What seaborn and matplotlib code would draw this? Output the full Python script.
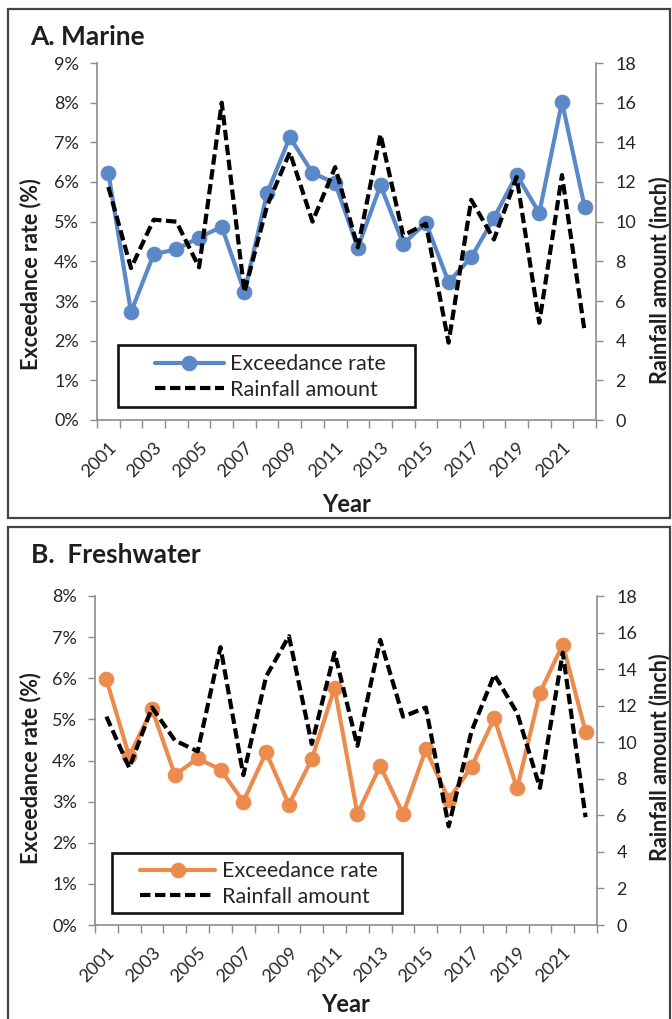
import matplotlib
matplotlib.use("Agg")
import matplotlib.pyplot as plt
import seaborn as sns
from matplotlib.patches import Rectangle
from matplotlib.ticker import PercentFormatter

years = list(range(2001, 2023))
tick_years = list(range(2001, 2022, 2))

marine_rate = [6.23, 2.72, 4.18, 4.3, 4.6, 4.87, 3.23, 5.72, 7.13, 6.23, 5.97,
               4.34, 5.92, 4.44, 4.97, 3.48, 4.1, 5.09, 6.18, 5.22, 8.02, 5.37]
marine_rain = [11.75, 7.66, 10.1, 10.0, 7.7, 16.0, 6.45, 10.8, 13.5, 10.0, 12.75,
               8.7, 14.4, 9.3, 9.9, 3.9, 11.1, 9.1, 12.25, 4.9, 12.35, 4.45]

fresh_rate = [5.97, 4.1, 5.25, 3.65, 4.05, 3.78, 3.0, 4.2, 2.93, 4.03, 5.77,
              2.7, 3.87, 2.7, 4.27, 3.05, 3.85, 5.03, 3.32, 5.65, 6.82, 4.7]
fresh_rain = [11.4, 8.6, 11.9, 10.1, 9.5, 15.2, 8.2, 13.6, 15.8, 9.9, 14.9,
              9.8, 15.6, 11.4, 11.9, 5.4, 10.6, 13.7, 11.6, 7.5, 14.9, 5.9]

blue = "#5B88C6"
orange = "#EC8B4E"
axis_grey = "#8c8c8c"
text_dark = "#262626"

sns.set_style("white")
plt.rcParams["font.family"] = ["Lato", "DejaVu Sans"]

W, H = 672, 1019
fig = plt.figure(figsize=(W / 100, H / 100), dpi=100)


def px_rect(left, top, right, bottom):
    return [left / W, 1 - bottom / H, (right - left) / W, (bottom - top) / H]


def draw_panel(pos, rate, rain, color, ymax, title, title_xy, lab, leg):
    ax = fig.add_axes(pos)
    ax2 = ax.twinx()

    sns.lineplot(x=years, y=rate, ax=ax, color=color, marker="o", markersize=10.5,
                 linewidth=3.0, markeredgecolor=color, legend=False)
    sns.lineplot(x=years, y=rain, ax=ax2, color="black", linewidth=3.0, legend=False)
    h1 = ax.lines[0]
    h2 = ax2.lines[0]
    h2.set_dashes([2.5, 1.1])
    h1.set_label("Exceedance rate")
    h2.set_label("Rainfall amount")

    ax.set_xlim(2000.5, 2022.5)
    ax.set_ylim(0, ymax)
    ax2.set_ylim(0, 18)
    ax.set_yticks(range(0, ymax + 1))
    ax.yaxis.set_major_formatter(PercentFormatter(xmax=100, decimals=0))
    ax2.set_yticks(range(0, 19, 2))

    ax.set_xticks(tick_years)
    ax.set_xticklabels([str(y) for y in tick_years], rotation=45, ha="right",
                       va="top", rotation_mode="anchor")
    ax.set_xticks([y - 0.5 for y in years] + [2022.5], minor=True)

    for a in (ax, ax2):
        a.spines["top"].set_visible(False)
        for s in a.spines.values():
            s.set_color(axis_grey)
            s.set_linewidth(1.2)
    ax.spines["right"].set_visible(False)
    ax2.spines["left"].set_visible(False)
    ax2.spines["bottom"].set_visible(False)

    ax.tick_params(axis="x", which="major", length=0, pad=14, labelsize=13,
                   labelcolor=text_dark)
    ax.tick_params(axis="x", which="minor", length=6, width=1, color=axis_grey,
                   direction="out", bottom=True)
    ax.tick_params(axis="y", length=5, width=1, color=axis_grey, pad=8,
                   labelsize=13, labelcolor=text_dark, left=True)
    ax2.tick_params(axis="y", length=5, width=1, color=axis_grey, pad=9,
                    labelsize=13, labelcolor=text_dark, right=True)

    ax.set_xlabel("Year", fontsize=17, fontweight="bold", color="#1e1e1e")
    ax.xaxis.set_label_coords(0.5, lab[0])
    ax.set_ylabel("Exceedance rate (%)", fontsize=15.5, fontweight="bold",
                  color="#1e1e1e")
    ax.yaxis.set_label_coords(lab[1], lab[2])
    ax2.set_ylabel("Rainfall amount (inch)", fontsize=15.5, fontweight="bold",
                   color="#1e1e1e")
    ax2.yaxis.set_label_coords(lab[3], lab[4])

    # legend box drawn separately so the side padding can be wider than the top
    ax2.add_patch(Rectangle((leg[0], leg[1]), leg[2], leg[3], transform=ax2.transAxes,
                            facecolor="white", edgecolor="#111111", linewidth=1.9,
                            zorder=4, clip_on=False))
    ax2.legend(handles=[h1, h2], loc="center left", bbox_to_anchor=(leg[4], leg[5]),
               frameon=False, fontsize=15.5, handlelength=leg[6], handletextpad=0.3,
               labelspacing=0.25, borderpad=0, borderaxespad=0,
               labelcolor=text_dark)

    fig.text(title_xy[0] / W, 1 - title_xy[1] / H, title, fontsize=19,
             fontweight="bold", color="#1e1e1e", ha="left", va="center")
    return ax, ax2


draw_panel(px_rect(97, 63, 596, 420), marine_rate, marine_rain, blue, 9,
           "A. Marine", (30, 37),
           (-0.204, -0.112, 0.409, 1.106, 0.392),
           (0.042, 0.036, 0.595, 0.174, 0.116, 0.120, 3.2))

draw_panel(px_rect(95, 596, 597, 925), fresh_rate, fresh_rain, orange, 8,
           "B.  Freshwater", (31, 555),
           (-0.207, -0.106, 0.477, 1.102, 0.51),
           (0.034, 0.036, 0.578, 0.182, 0.0896, 0.125, 3.5))

# scanned panel frames
fig.add_artist(Rectangle((8 / W, 1 - 518 / H), 662 / W, 509 / H, transform=fig.transFigure,
                         fill=False, edgecolor="#444444", linewidth=1.6))
fig.add_artist(Rectangle((8 / W, -0.01), 662 / W, 1 - 527 / H + 0.01,
                         transform=fig.transFigure, fill=False, edgecolor="#444444",
                         linewidth=1.6))

fig.savefig("out.png", dpi=100)
